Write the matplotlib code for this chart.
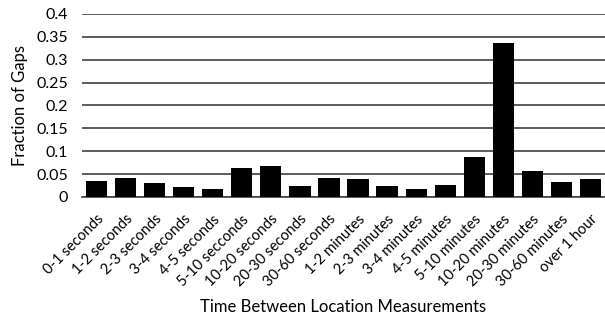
import matplotlib.pyplot as plt
import numpy as np

categories = ['0-1 seconds', '1-2 seconds', '2-3 seconds', '3-4 seconds', '4-5 seconds',
              '5-10 secconds', '10-20 seconds', '20-30 seconds', '30-60 seconds',
              '1-2 minutes', '2-3 minutes', '3-4 minutes', '4-5 minutes', '5-10 minutes',
              '10-20 minutes', '20-30 minutes', '30-60 minutes', 'over 1 hour']
fraction = [0.035, 0.042, 0.030, 0.022, 0.018, 0.064, 0.068, 0.024, 0.042,
            0.039, 0.024, 0.0175, 0.0255, 0.087, 0.337, 0.056, 0.032, 0.0385]
yticks = [0, 0.05, 0.1, 0.15, 0.2, 0.25, 0.3, 0.35, 0.4]
ytick_labels = ['0', '0.05', '0.1', '0.15', '0.2', '0.25', '0.3', '0.35', '0.4']

plt.rcParams['font.family'] = ['Lato', 'DejaVu Sans']

fig = plt.figure(figsize=(6.05, 3.16), dpi=100)
ax = fig.add_axes([0.1355, 0.3766, 0.8645, 0.5791])

x = np.arange(len(categories))
ax.bar(x, fraction, width=0.73, color='black', zorder=3)

ax.set_xlim(-0.5, len(categories) - 0.5)
ax.set_ylim(0, 0.4)
ax.set_yticks(yticks)
ax.set_yticklabels(ytick_labels, fontsize=11.5)
ax.set_xticks(x)
ax.set_xticklabels(categories, rotation=45, ha='right', rotation_mode='anchor', fontsize=10.5)
ax.tick_params(axis='both', length=0)
ax.tick_params(axis='y', pad=10)
ax.tick_params(axis='x', pad=11)

ax.grid(axis='y', color='#404040', linewidth=1.2, zorder=0)
for s in ['left', 'right', 'top']:
    ax.spines[s].set_visible(False)
ax.spines['bottom'].set_color('#404040')
ax.spines['bottom'].set_linewidth(1.2)

ax.set_ylabel('Fraction of Gaps', fontsize=12, labelpad=6)
ax.set_xlabel('Time Between Location Measurements', fontsize=12, labelpad=7)

fig.savefig('out.png', dpi=100)
